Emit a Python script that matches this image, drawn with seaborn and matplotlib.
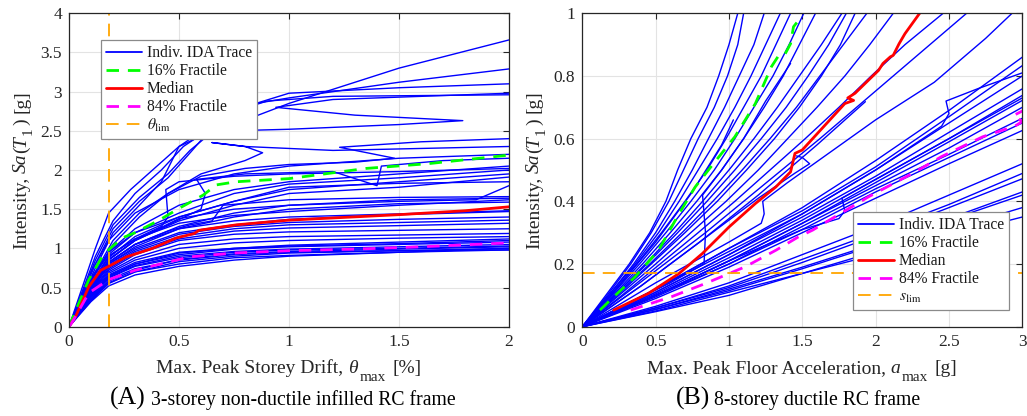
import numpy as np
import pandas as pd
import matplotlib
matplotlib.use("Agg")
import matplotlib.pyplot as plt
from matplotlib.lines import Line2D
from matplotlib.ticker import FuncFormatter, MultipleLocator
import seaborn as sns

# ---------------- Panel A: 3-storey frame, drift [%] vs Sa(T1) [g] ----------------
drift_grid = [0, 0.05, 0.1, 0.18, 0.3, 0.5, 0.75, 1.0, 1.5, 2.0]
sa_a_regular = [
    [0, 0.32, 0.62, 0.95, 1.25, 1.55, 1.75, 1.85, 1.95, 2.05],
    [0, 0.30, 0.60, 0.92, 1.20, 1.45, 1.70, 1.82, 1.90, 2.00],
    [0, 0.28, 0.55, 0.88, 1.15, 1.40, 1.60, 1.75, 1.85, 1.95],
    [0, 0.27, 0.52, 0.85, 1.10, 1.35, 1.55, 1.70, 1.78, 1.91],
    [0, 0.26, 0.50, 0.82, 1.05, 1.28, 1.45, 1.55, 1.62, 1.64],
    [0, 0.25, 0.50, 0.80, 1.02, 1.25, 1.40, 1.50, 1.57, 1.59],
    [0, 0.26, 0.50, 0.80, 1.00, 1.20, 1.30, 1.37, 1.43, 1.47],
    [0, 0.24, 0.47, 0.78, 0.98, 1.18, 1.28, 1.33, 1.37, 1.40],
    [0, 0.25, 0.48, 0.76, 0.96, 1.15, 1.25, 1.30, 1.33, 1.36],
    [0, 0.23, 0.45, 0.74, 0.94, 1.12, 1.22, 1.26, 1.29, 1.32],
    [0, 0.22, 0.44, 0.72, 0.92, 1.10, 1.18, 1.21, 1.23, 1.25],
    [0, 0.22, 0.43, 0.70, 0.88, 1.05, 1.12, 1.15, 1.17, 1.19],
    [0, 0.21, 0.41, 0.68, 0.85, 1.00, 1.07, 1.10, 1.13, 1.15],
    [0, 0.20, 0.40, 0.65, 0.80, 0.92, 0.99, 1.02, 1.05, 1.08],
    [0, 0.19, 0.38, 0.62, 0.77, 0.88, 0.95, 0.98, 1.00, 1.03],
    [0, 0.18, 0.36, 0.60, 0.74, 0.85, 0.92, 0.95, 0.97, 0.98],
    [0, 0.17, 0.34, 0.56, 0.70, 0.80, 0.88, 0.91, 0.95, 0.98],
    [0, 0.16, 0.32, 0.52, 0.66, 0.77, 0.85, 0.90, 0.95, 1.00],
    [0, 0.20, 0.40, 0.66, 0.82, 0.95, 1.00, 1.03, 1.06, 1.10],
    [0, 0.24, 0.48, 0.82, 1.05, 1.25, 1.35, 1.40, 1.44, 1.48],
    [0, 0.28, 0.55, 0.90, 1.12, 1.32, 1.42, 1.47, 1.55, 1.62],
    [0, 0.30, 0.58, 0.95, 1.20, 1.40, 1.60, 1.78, 1.83, 1.85],
    [0, 0.19, 0.38, 0.64, 0.80, 0.94, 1.00, 1.04, 1.08, 1.12],
    [0, 0.35, 0.70, 1.10, 1.45, 1.75, 1.95, 2.05, 2.15, 2.20],
    [0, 0.17, 0.33, 0.55, 0.70, 0.83, 0.90, 0.94, 0.97, 1.00],
    [0, 0.18, 0.35, 0.58, 0.72, 0.86, 0.93, 0.96, 0.99, 1.02],
    [0, 0.20, 0.39, 0.63, 0.78, 0.90, 0.96, 0.99, 1.02, 1.05],
]

# records with softening / resurrection (non-monotonic drift)
drift_a_irregular = [
    [0, 0.06, 0.12, 0.18, 0.28, 0.40, 0.50, 0.65, 0.86, 1.00, 1.50, 2.00],
    [0, 0.06, 0.12, 0.20, 0.30, 0.42, 0.52, 0.68, 0.85, 1.00, 1.50, 2.00],
    [0, 0.06, 0.12, 0.20, 0.32, 0.45, 0.55, 0.70, 0.85, 1.00, 1.50, 2.00],
    [0, 0.06, 0.12, 0.20, 0.32, 0.45, 0.56, 0.70, 0.90, 1.20, 2.00],
    [0, 0.06, 0.12, 0.20, 0.32, 0.42, 0.50, 0.60, 1.00, 1.50, 1.79, 1.30, 0.94, 1.20, 1.60, 2.00],
    [0, 0.06, 0.12, 0.20, 0.32, 0.45, 0.60, 0.80, 1.00, 1.30, 1.48, 1.23, 1.60, 2.00],
    [0, 0.06, 0.12, 0.20, 0.32, 0.45, 0.60, 0.80, 0.88, 0.80, 0.65, 0.80, 1.20, 2.00],
    [0, 0.06, 0.12, 0.18, 0.30, 0.42, 0.45, 0.44, 0.50, 0.75, 1.00, 1.50, 2.00],
    [0, 0.06, 0.12, 0.18, 0.30, 0.45, 0.60, 0.62, 0.58, 0.80, 1.20, 1.40, 1.42, 1.70, 2.00],
    [0, 0.06, 0.12, 0.18, 0.30, 0.45, 0.55, 0.65, 0.70, 1.00, 1.50, 2.00],
    [0, 0.06, 0.12, 0.18, 0.30, 0.50, 0.75, 1.00, 1.50, 1.85, 2.00],
]
sa_a_irregular = [
    [0, 0.50, 1.00, 1.45, 1.75, 2.05, 2.30, 2.50, 2.70, 2.85, 3.30, 3.66],
    [0, 0.45, 0.90, 1.35, 1.70, 2.00, 2.30, 2.60, 2.85, 2.92, 3.12, 3.29],
    [0, 0.42, 0.85, 1.30, 1.65, 1.95, 2.25, 2.60, 2.85, 2.98, 3.05, 3.10],
    [0, 0.40, 0.80, 1.25, 1.60, 1.90, 2.25, 2.70, 2.88, 2.94, 2.96],
    [0, 0.38, 0.75, 1.20, 1.55, 1.85, 2.30, 2.49, 2.52, 2.58, 2.63, 2.70, 2.80, 2.90, 2.94, 2.98],
    [0, 0.36, 0.70, 1.10, 1.45, 1.70, 1.92, 2.02, 2.07, 2.10, 2.15, 2.29, 2.36, 2.40],
    [0, 0.35, 0.68, 1.05, 1.40, 1.70, 1.95, 2.12, 2.22, 2.30, 2.35, 2.30, 2.25, 2.30],
    [0, 0.30, 0.60, 0.90, 1.12, 1.28, 1.40, 1.75, 1.85, 1.92, 1.95, 1.98, 2.02],
    [0, 0.28, 0.55, 0.85, 1.10, 1.30, 1.50, 1.70, 1.88, 1.95, 1.98, 1.80, 2.05, 2.12, 2.15],
    [0, 0.27, 0.53, 0.82, 1.05, 1.22, 1.30, 1.35, 1.55, 1.62, 1.65, 1.66],
    [0, 0.28, 0.55, 0.86, 1.10, 1.38, 1.50, 1.55, 1.60, 1.62, 1.80],
]

frac16_a_drift = [0, 0.045, 0.09, 0.15, 0.18, 0.24, 0.30, 0.41, 0.50, 0.61, 0.67, 0.76, 1.00, 1.35, 1.63, 2.00]
frac16_a_sa = [0, 0.30, 0.60, 0.89, 0.98, 1.13, 1.20, 1.36, 1.51, 1.68, 1.81, 1.85, 1.89, 2.02, 2.08, 2.19]
median_a_drift = [0, 0.03, 0.09, 0.144, 0.18, 0.26, 0.38, 0.485, 0.57, 0.59, 0.76, 1.00, 1.50, 1.80, 2.00]
median_a_sa = [0, 0.13, 0.51, 0.72, 0.77, 0.89, 1.00, 1.13, 1.19, 1.23, 1.30, 1.36, 1.43, 1.48, 1.53]
frac84_a_drift = [0, 0.015, 0.09, 0.18, 0.30, 0.545, 0.75, 1.00, 1.30, 1.60, 2.00]
frac84_a_sa = [0, 0.06, 0.43, 0.60, 0.72, 0.89, 0.94, 0.97, 0.99, 1.02, 1.07]
theta_lim = 0.18

# ---------------- Panel B: 8-storey frame, PFA [g] vs Sa(T1) [g] ----------------
sa_grid_b = [0, 0.1, 0.2, 0.3, 0.4, 0.5, 0.6, 0.7, 0.8, 0.9, 1.0]
pfa_b_steep = [
    [0, 0.16, 0.32, 0.46, 0.57, 0.65, 0.74, 0.85, 0.93, 1.00, 1.06],
    [0, 0.17, 0.33, 0.47, 0.59, 0.69, 0.79, 0.90, 0.99, 1.06, 1.10],
    [0, 0.18, 0.35, 0.50, 0.63, 0.75, 0.86, 0.97, 1.07, 1.17, 1.24],
    [0, 0.18, 0.36, 0.52, 0.66, 0.79, 0.92, 1.04, 1.15, 1.25, 1.35],
    [0, 0.19, 0.37, 0.54, 0.70, 0.85, 0.98, 1.10, 1.22, 1.32, 1.42],
    [0, 0.20, 0.39, 0.57, 0.74, 0.90, 1.04, 1.17, 1.30, 1.41, 1.51],
    [0, 0.21, 0.41, 0.60, 0.78, 0.95, 1.10, 1.24, 1.37, 1.48, 1.59],
    [0, 0.22, 0.43, 0.63, 0.82, 1.00, 1.17, 1.33, 1.48, 1.63, 1.77],
    [0, 0.22, 0.44, 0.65, 0.85, 1.04, 1.22, 1.39, 1.54, 1.68, 1.80],
    [0, 0.23, 0.46, 0.68, 0.89, 1.09, 1.28, 1.46, 1.62, 1.78, 1.94],
    [0, 0.24, 0.47, 0.70, 0.92, 1.12, 1.31, 1.48, 1.63, 1.76, 1.86],
    [0, 0.25, 0.50, 0.74, 0.98, 1.20, 1.40, 1.60, 1.79, 1.96, 2.12],
    [0, 0.27, 0.53, 0.79, 1.04, 1.28, 1.52, 1.75, 1.97, 2.20, 2.46],
    [0, 0.28, 0.56, 0.84, 1.10, 1.36, 1.62, 1.87, 2.12, 2.37, 2.62],
]

pfa_grid_b = [0, 0.5, 1.0, 1.5, 2.0, 2.5, 3.0]
sa_b_flexible = [
    [0, 0.12, 0.25, 0.38, 0.53, 0.69, 0.86],
    [0, 0.12, 0.25, 0.37, 0.51, 0.67, 0.833],
    [0, 0.11, 0.23, 0.36, 0.50, 0.65, 0.80],
    [0, 0.11, 0.23, 0.35, 0.48, 0.62, 0.759],
    [0, 0.105, 0.22, 0.34, 0.47, 0.60, 0.738],
    [0, 0.10, 0.21, 0.33, 0.46, 0.59, 0.722],
    [0, 0.10, 0.21, 0.33, 0.45, 0.57, 0.70],
    [0, 0.095, 0.20, 0.32, 0.44, 0.55, 0.665],
    [0, 0.09, 0.19, 0.30, 0.41, 0.52, 0.626],
    [0, 0.10, 0.20, 0.31, 0.43, 0.54, 0.65],
    [0, 0.065, 0.14, 0.23, 0.32, 0.42, 0.52],
    [0, 0.06, 0.13, 0.215, 0.30, 0.39, 0.489],
    [0, 0.06, 0.125, 0.205, 0.29, 0.38, 0.472],
    [0, 0.055, 0.12, 0.19, 0.265, 0.345, 0.43],
    [0, 0.055, 0.115, 0.185, 0.26, 0.34, 0.42],
    [0, 0.05, 0.11, 0.17, 0.24, 0.31, 0.38],
    [0, 0.048, 0.10, 0.17, 0.23, 0.29, 0.35],
]

pfa_b_irregular = [
    [0, 0.4, 0.8, 1.2, 1.6, 1.93],
    [0, 0.4, 0.8, 1.2, 1.45, 1.55, 1.50, 1.46],
    [0, 0.3, 0.6, 0.83, 0.84, 0.82, 0.95, 1.10, 1.25, 1.42],
    [0, 0.25, 0.5, 0.75, 0.95, 1.03],
    [0, 0.5, 1.0, 1.5, 1.75, 1.79, 1.77, 2.0, 2.5, 3.0],
    [0, 0.5, 1.0, 1.5, 2.0, 2.45, 2.50, 2.48, 2.7, 3.0],
    [0, 0.5, 1.0, 1.22, 1.24, 1.23, 1.4, 1.7, 2.0, 2.4, 2.6, 2.75, 2.93],
]
sa_b_irregular = [
    [0, 0.13, 0.27, 0.42, 0.58, 0.718],
    [0, 0.13, 0.27, 0.41, 0.49, 0.52, 0.54, 0.545],
    [0, 0.07, 0.14, 0.20, 0.30, 0.42, 0.50, 0.60, 0.72, 0.84],
    [0, 0.13, 0.27, 0.43, 0.58, 0.66],
    [0, 0.10, 0.21, 0.31, 0.345, 0.37, 0.41, 0.47, 0.60, 0.73],
    [0, 0.12, 0.24, 0.36, 0.50, 0.64, 0.68, 0.72, 0.76, 0.81],
    [0, 0.14, 0.27, 0.33, 0.36, 0.40, 0.46, 0.56, 0.66, 0.78, 0.86, 0.92, 1.00],
]

frac16_b_pfa = [0.12, 0.225, 0.36, 0.52, 0.66, 0.77, 0.86, 1.04, 1.18, 1.29, 1.34, 1.38, 1.42, 1.44, 1.475, 1.50]
frac16_b_sa = [0.053, 0.10, 0.159, 0.244, 0.361, 0.446, 0.50, 0.606, 0.712, 0.83, 0.866, 0.868, 0.903, 0.957, 0.978, 0.99]
median_b_pfa = [0.214, 0.45, 0.66, 0.82, 1.00, 1.18, 1.32, 1.42, 1.45, 1.50, 1.79, 1.85, 1.81, 1.86, 2.02, 2.05, 2.10, 2.12, 2.16, 2.20, 2.30]
median_b_sa = [0.053, 0.106, 0.17, 0.234, 0.318, 0.393, 0.446, 0.494, 0.553, 0.564, 0.712, 0.722, 0.73, 0.745, 0.818, 0.84, 0.861, 0.866, 0.903, 0.935, 1.00]
frac84_b_pfa = [0.33, 0.61, 0.84, 1.11, 1.32, 1.475, 1.57, 1.72, 1.95, 2.27, 2.45, 2.73, 2.95, 3.00, 2.94, 3.05]
frac84_b_sa = [0.053, 0.096, 0.138, 0.191, 0.244, 0.287, 0.308, 0.35, 0.414, 0.494, 0.543, 0.606, 0.64, 0.655, 0.674, 0.70]
s_lim = 0.17

# ---------------- styling ----------------
sns.set_style("whitegrid")
plt.rcParams["font.family"] = ["Liberation Serif", "DejaVu Serif"]
plt.rcParams["mathtext.fontset"] = "stix"

BLUE, GREEN, RED, MAGENTA, ORANGE = "#0000ff", "#00ff00", "#ff0000", "#ff00ff", "#ffa500"
FRAC_DASH = (0, (4.5, 3.2))
LIM_DASH = (0, (7.0, 4.5))
TXT = "#262626"


def frame_from(xs, ys, start=0):
    rows = []
    for k, (x, y) in enumerate(zip(xs, ys)):
        for i, (xi, yi) in enumerate(zip(x, y)):
            rows.append((start + k, i, xi, yi))
    return pd.DataFrame(rows, columns=["trace", "step", "edp", "im"])


def style_axes(ax):
    ax.grid(True, color="#e3e3e3", lw=0.8)
    ax.set_axisbelow(True)
    for s in ax.spines.values():
        s.set_visible(True)
        s.set_color(TXT)
        s.set_linewidth(0.9)
    ax.tick_params(direction="in", top=True, right=True, length=4, width=0.8,
                   labelsize=12.5, colors=TXT, pad=5)
    fmt = FuncFormatter(lambda v, p: f"{v:g}")
    ax.xaxis.set_major_formatter(fmt)
    ax.yaxis.set_major_formatter(fmt)
    ax.set_xlabel("")
    ax.set_ylabel("")


W, H = 1027, 416
fig = plt.figure(figsize=(W / 100, H / 100), dpi=100)
axA = fig.add_axes([69 / W, (H - 326.7) / H, 440 / W, 313.4 / H])
axB = fig.add_axes([582.3 / W, (H - 326.7) / H, 440 / W, 313.4 / H])

# ---- Panel A
dfA = pd.concat([
    frame_from([drift_grid] * len(sa_a_regular), sa_a_regular, 0),
    frame_from(drift_a_irregular, sa_a_irregular, 100),
])
sns.lineplot(data=dfA, x="edp", y="im", units="trace", estimator=None, sort=False,
             color=BLUE, lw=1.0, ax=axA, legend=False)
sns.lineplot(x=frac16_a_drift, y=frac16_a_sa, sort=False, color=GREEN, lw=2.0,
             linestyle=FRAC_DASH, ax=axA)
sns.lineplot(x=median_a_drift, y=median_a_sa, sort=False, color=RED, lw=2.0, ax=axA)
sns.lineplot(x=frac84_a_drift, y=frac84_a_sa, sort=False, color=MAGENTA, lw=2.0,
             linestyle=FRAC_DASH, ax=axA)
axA.axvline(theta_lim, color=ORANGE, lw=1.3, linestyle=LIM_DASH)
axA.set_xlim(0, 2)
axA.set_ylim(0, 4)
axA.xaxis.set_major_locator(MultipleLocator(0.5))
axA.yaxis.set_major_locator(MultipleLocator(0.5))
style_axes(axA)

# ---- Panel B
dfB = pd.concat([
    frame_from(pfa_b_steep, [sa_grid_b] * len(pfa_b_steep), 0),
    frame_from([pfa_grid_b] * len(sa_b_flexible), sa_b_flexible, 100),
    frame_from(pfa_b_irregular, sa_b_irregular, 200),
])
sns.lineplot(data=dfB, x="edp", y="im", units="trace", estimator=None, sort=False,
             color=BLUE, lw=1.0, ax=axB, legend=False)
sns.lineplot(x=frac16_b_pfa, y=frac16_b_sa, sort=False, color=GREEN, lw=2.0,
             linestyle=FRAC_DASH, ax=axB)
sns.lineplot(x=median_b_pfa, y=median_b_sa, sort=False, color=RED, lw=2.0, ax=axB)
sns.lineplot(x=frac84_b_pfa, y=frac84_b_sa, sort=False, color=MAGENTA, lw=2.0,
             linestyle=FRAC_DASH, ax=axB)
axB.axhline(s_lim, color=ORANGE, lw=1.3, linestyle=LIM_DASH)
axB.set_xlim(0, 3)
axB.set_ylim(0, 1)
axB.xaxis.set_major_locator(MultipleLocator(0.5))
axB.yaxis.set_major_locator(MultipleLocator(0.2))
style_axes(axB)


def make_legend(ax, lim_label, anchor):
    handles = [
        Line2D([], [], color=BLUE, lw=1.3),
        Line2D([], [], color=GREEN, lw=2.0, linestyle=FRAC_DASH),
        Line2D([], [], color=RED, lw=2.0),
        Line2D([], [], color=MAGENTA, lw=2.0, linestyle=FRAC_DASH),
        Line2D([], [], color=ORANGE, lw=1.3, linestyle=LIM_DASH),
    ]
    labels = ["Indiv. IDA Trace", "16% Fractile", "Median", "84% Fractile", lim_label]
    leg = ax.legend(handles, labels, loc="upper left", bbox_to_anchor=anchor,
                    fontsize=11.2, frameon=True, fancybox=False, framealpha=1,
                    edgecolor="#8a8a8a", borderpad=0.35, handlelength=2.3,
                    handletextpad=0.3, labelspacing=0.12, borderaxespad=0)
    leg.get_frame().set_linewidth(0.9)
    for t in leg.get_texts():
        t.set_color("#1a1a1a")
    return leg


make_legend(axA, r"$\theta_{\rm lim}$", ((101 - 69) / 440, (326.7 - 40) / 313.4))
make_legend(axB, r"$s_{\rm lim}$", ((853 - 582.3) / 440, (326.7 - 212) / 313.4))


# ---- axis titles built from pieces so subscripts keep a readable size
def rich_text(x, y, pieces, rotation=0):
    """x, y: pixel position (from top-left) of the centre of the run, on its baseline.
    pieces: (text, size, style, drop_px, gap_px)."""
    renderer = fig.canvas.get_renderer()
    widths = []
    for s, size, style, drop, gap in pieces:
        t = fig.text(0, 0, s, fontsize=size, style=style)
        widths.append(t.get_window_extent(renderer).width)
        t.remove()
    total = sum(widths) + sum(p[4] for p in pieces[:-1])
    pos = -total / 2
    for (s, size, style, drop, gap), w in zip(pieces, widths):
        if rotation == 0:
            px, py = x + pos, y + drop
        else:
            px, py = x + drop, y - pos
        fig.text(px / W, (H - py) / H, s, fontsize=size, style=style, color=TXT,
                 rotation=rotation, rotation_mode="anchor", ha="left", va="baseline")
        pos += w + gap


LAB = 14.0
SUB = 11.0
SP = 4.5
rich_text(289, 372.7, [("Max. Peak Storey Drift,", LAB, "normal", 0, SP),
                       ("\u03b8", LAB, "italic", 0, 1.5),
                       ("max", SUB, "normal", 8, 7),
                       ("[%]", LAB, "normal", 0, 0)])
rich_text(802.3, 372.7, [("Max. Peak Floor Acceleration,", LAB, "normal", 0, SP),
                         ("a", LAB, "italic", 0, 1.5),
                         ("max", SUB, "normal", 8, 7),
                         ("[g]", LAB, "normal", 0, 0)])
ylab = [("Intensity,", LAB, "normal", 0, SP), ("Sa", LAB, "italic", 0, 0),
        ("(", LAB, "normal", 0, 0), ("T", LAB, "italic", 0, 0.5),
        ("1", SUB, "normal", 6, 3), (")", LAB, "normal", 0, SP),
        ("[g]", LAB, "normal", 0, 0)]
rich_text(26, 170, ylab, rotation=90)
rich_text(539, 170, ylab, rotation=90)

# ---- panel captions
fig.text(146 / W, (H - 405) / H, "(A)", ha="right", va="baseline", fontsize=18.5, color="black")
fig.text(151 / W, (H - 405) / H, "3-storey non-ductile infilled RC frame",
         ha="left", va="baseline", fontsize=14.2, color="black")
fig.text(710 / W, (H - 405) / H, "(B)", ha="right", va="baseline", fontsize=18.5, color="black")
fig.text(714 / W, (H - 405) / H, "8-storey ductile RC frame",
         ha="left", va="baseline", fontsize=14.2, color="black")

fig.savefig("out.png", dpi=100)
